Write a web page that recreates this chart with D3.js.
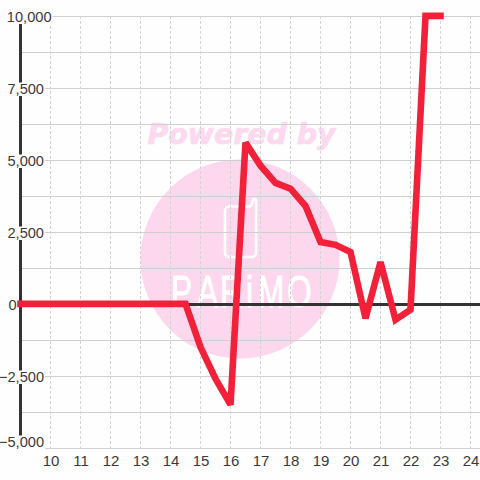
<!DOCTYPE html>
<html><head><meta charset="utf-8">
<script src="https://cdn.jsdelivr.net/npm/d3@7/dist/d3.min.js"></script>
<style>html,body{margin:0;padding:0;background:#fff}svg{display:block}</style></head>
<body><svg id="c" width="480" height="480"></svg>
<script>
const xValues = [9,9.5,10,10.5,11,11.5,12,12.5,13,13.5,14,14.5,15,15.5,16,16.5,17,17.5,18,18.5,19,19.5,20,20.5,21,21.5,22,22.5,23];
const yValues = [0,0,0,0,0,0,0,0,0,0,0,0,-1500,-2600,-3500,5600,4800,4200,4000,3400,2150,2050,1800,-500,1450,-550,-200,10000,10000];
const xTicks = [10,11,12,13,14,15,16,17,18,19,20,21,22,23,24];
const yMajor = [10000,7500,5000,2500,0,-2500,-5000];
const yGrid = [10000,8750,7500,6250,5000,3750,2500,1250,0,-1250,-2500,-3750,-5000];
const fmt = d3.format(",");
const x = d3.scaleLinear().domain([9,25]).range([20.5,500.5]);
const y = d3.scaleLinear().domain([-5000,10000]).range([448.5,16.5]);
const svg = d3.select("#c");
const FONT = "'Liberation Sans',Arial,sans-serif";
const BG = "#fdfefd";
const INK = "#3a3a3a";

svg.append("rect").attr("width",480).attr("height",480).attr("fill",BG);

// watermark
const wm = svg.append("g");
wm.append("circle").attr("cx",240).attr("cy",259).attr("r",99.5).attr("fill","#fcd7ee");
wm.append("text").attr("x",241.5).attr("y",144).attr("text-anchor","middle")
  .attr("font-family","'DejaVu Sans'").attr("font-weight","bold").attr("font-style","italic")
  .attr("font-size",28.4).attr("fill","#fcd9ef").attr("stroke","#fcd9ef").attr("stroke-width",0.7).text("Powered by");
wm.append("path").attr("d","M251 206.5H229a4 4 0 0 0-4 4V253a4 4 0 0 0 4 4H252a4 4 0 0 0 4-4V201a1.5 1.5 0 0 0-3-1L251 206.5")
  .attr("fill","none").attr("stroke","#fff").attr("stroke-width",2.6);
const logoScale = 0.72;
const logoX = [-2,24,47,73,85,114];
wm.append("text").attr("transform",`translate(173,306.5) scale(${logoScale},1)`)
  .attr("x",logoX.map(v=>v/logoScale).join(" ")).attr("y",0)
  .attr("font-family",FONT).attr("font-size",44)
  .attr("fill","#fff").attr("stroke","#fff").attr("stroke-width",0.8).text("PARiMO");

// grid
const grid = svg.append("g");
grid.selectAll("line.h").data(yGrid).join("line").attr("class","h")
  .attr("x1",20).attr("x2",480).attr("y1",d=>y(d)).attr("y2",d=>y(d))
  .attr("stroke","#d0d0d0").attr("stroke-width",1);
grid.selectAll("line.v").data(xTicks).join("line").attr("class","v")
  .attr("x1",d=>x(d)).attr("x2",d=>x(d)).attr("y1",16).attr("y2",448)
  .attr("stroke","#d4d4d4").attr("stroke-width",1).attr("stroke-dasharray","3,2");

// axis lines
svg.append("line").attr("x1",20.5).attr("x2",20.5).attr("y1",16).attr("y2",448).attr("stroke","#333").attr("stroke-width",3);
svg.append("line").attr("x1",20).attr("x2",480).attr("y1",y(0)).attr("y2",y(0)).attr("stroke","#333").attr("stroke-width",3);

// y labels with backing that hides the axis behind them
const yl = svg.append("g");
yMajor.forEach(d=>{
  if (d===0) {
    yl.append("text").attr("x",16.5).attr("y",y(d)+5.5).attr("text-anchor","end")
      .attr("font-family",FONT).attr("font-size",14.6).attr("fill",INK).text(fmt(d));
    return;
  }
  const big = d===10000;
  const base = d===-5000 ? 447 : y(d)+5.5;
  const right = big?51.5:44;
  const t = yl.append("text").attr("x",right).attr("y",base).attr("text-anchor","end")
    .attr("font-family",FONT).attr("font-size",14.6).attr("fill",INK).text(fmt(d));
  const w = t.node().getComputedTextLength();
  yl.insert("rect","text").attr("x",right-w-1).attr("y",base-11.5).attr("width",w+2).attr("height",13.5).attr("fill",BG);
});
// x labels
svg.selectAll("text.xl").data(xTicks).join("text").attr("class","xl")
  .attr("x",d=>x(d)+0.5).attr("y",466).attr("text-anchor","middle")
  .attr("font-family",FONT).attr("font-size",15).attr("fill",INK).text(d=>d);

// data line
const line = d3.line().x((d,i)=>x(xValues[i])).y(d=>y(d)-0.6);
svg.append("path").datum(yValues).attr("d",line).attr("fill","none")
  .attr("stroke","#f22039").attr("stroke-width",6.6).attr("stroke-linejoin","miter").attr("stroke-miterlimit",3).attr("stroke-linecap","square");
</script></body></html>
